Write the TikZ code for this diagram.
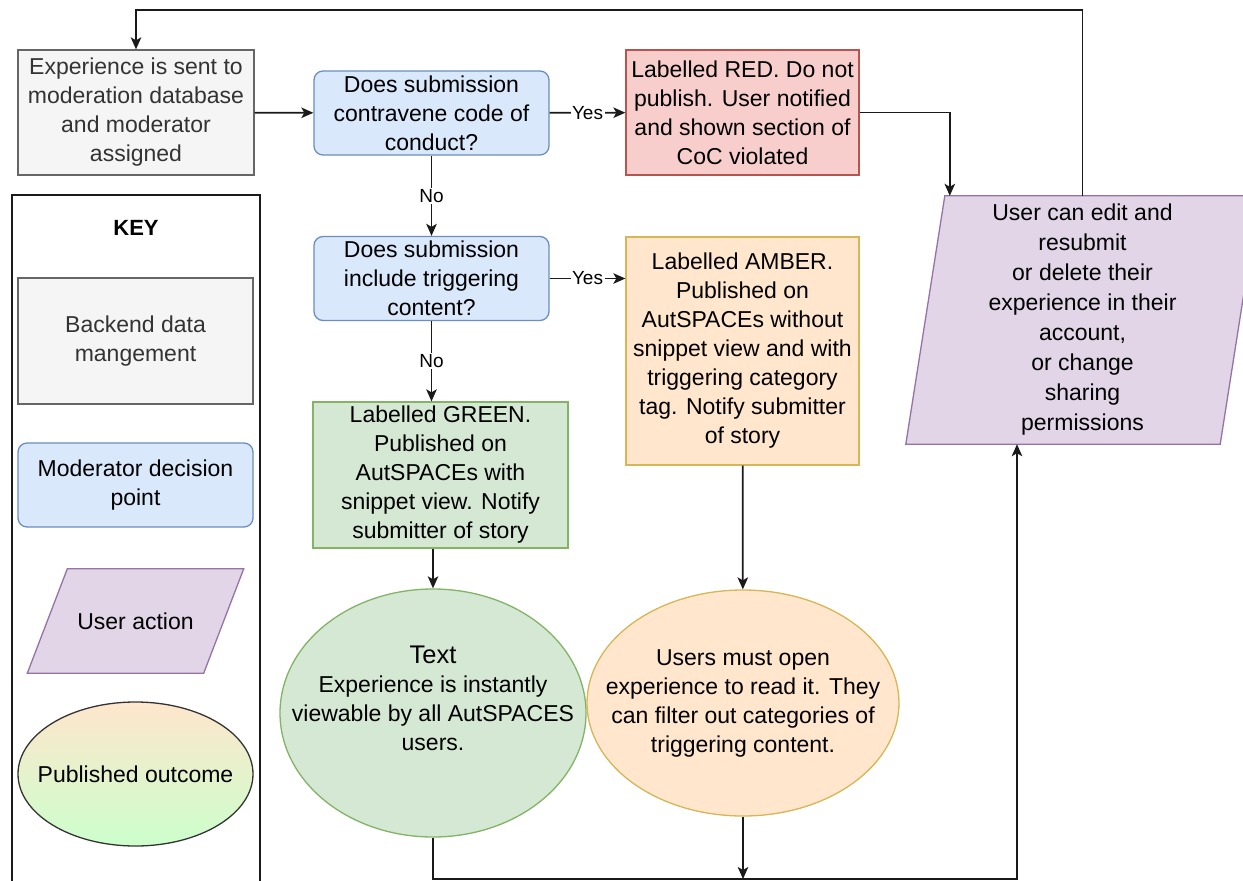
\documentclass[tikz,border=0pt]{standalone}
\usepackage{fontspec}
\setmainfont{Liberation Sans}
\usetikzlibrary{arrows.meta,shapes.geometric,backgrounds}

\definecolor{grayfill}{HTML}{F5F5F5}
\definecolor{graydraw}{HTML}{666666}
\definecolor{graytext}{HTML}{333333}
\definecolor{bluefill}{HTML}{DAE8FC}
\definecolor{bluedraw}{HTML}{6C8EBF}
\definecolor{redfill}{HTML}{F8CECC}
\definecolor{reddraw}{HTML}{B85450}
\definecolor{amberfill}{HTML}{FFE6CC}
\definecolor{amberdraw}{HTML}{D6B656}
\definecolor{greenfill}{HTML}{D5E8D4}
\definecolor{greendraw}{HTML}{82B366}
\definecolor{purplefill}{HTML}{E1D5E7}
\definecolor{purpledraw}{HTML}{9673A6}
\definecolor{mintfill}{HTML}{CCFFCC}
\definecolor{linecol}{HTML}{1A1A1A}

\tikzset{
  every node/.style={align=center, inner sep=0pt, font=\fontsize{23}{29}\selectfont},
  box/.style={draw, line width=1.3pt},
  backend/.style={box, rectangle, draw=graydraw, fill=grayfill, text=graytext,
    minimum width=236, minimum height=125},
  decide/.style={box, rectangle, rounded corners=9pt, draw=bluedraw, fill=bluefill,
    minimum width=235, minimum height=84},
  redbox/.style={box, rectangle, draw=reddraw, fill=redfill,
    minimum width=233, minimum height=125},
  amberbox/.style={box, rectangle, draw=amberdraw, fill=amberfill,
    minimum width=233, minimum height=228},
  greenbox/.style={box, rectangle, draw=greendraw, fill=greenfill,
    minimum width=255, minimum height=146},
  greenout/.style={box, ellipse, draw=greendraw, fill=greenfill,
    minimum width=306, minimum height=248},
  amberout/.style={box, ellipse, draw=amberdraw, fill=amberfill,
    minimum width=312, minimum height=226},
  keyout/.style={box, ellipse, draw=graytext, top color=amberfill, bottom color=mintfill,
    minimum width=235, minimum height=144},
  usertext/.style={rectangle},
  userpoly/.style={draw=purpledraw, fill=purplefill, line width=1.3pt},
  keyframe/.style={draw=linecol, line width=1.4pt, rectangle},
  flow/.style={draw=linecol, line width=1.8pt, -{Stealth[length=12pt,width=10.5pt,inset=3pt]}},
  lbl/.style={fill=white, inner sep=1.5pt, font=\fontsize{19}{22}\selectfont}
}

\begin{document}
\begin{tikzpicture}[x=1pt,y=-1pt]
  \useasboundingbox (0,0) rectangle (1243,881);

  % key
  \node[keyframe, minimum width=248, minimum height=730] (keybox) at (136,560) {};
  \node[font=\fontsize{22}{26}\bfseries] (keytitle) at (136,228) {KEY};
  \node[backend, minimum width=235, minimum height=126] (kback) at (135.5,341) {Backend data\\mangement};
  \node[decide] (kmod) at (135.5,485) {Moderator decision\\point};
  \node[usertext, minimum width=176, minimum height=104] (kuser) at (135.5,621) {User action};
  \node[keyout, label={center:Published outcome}] (kout) at (135.5,774) {};

  % flow chart
  \node[backend] (exp) at (136,112.5) {Experience is sent to\\moderation database\\and moderator\\assigned};
  \node[decide] (dec1) at (431.5,113) {Does submission\\contravene code of\\conduct?};
  \node[redbox] (red) at (742.5,112.5) {Labelled RED. Do not\\publish. User notified\\and shown section of\\CoC violated};
  \node[decide] (dec2) at (431.5,278.5) {Does submission\\include triggering\\content?};
  \node[amberbox] (amber) at (742.5,351) {Labelled AMBER.\\Published on\\AutSPACEs without\\snippet view and with\\triggering category\\tag. Notify submitter\\of story};
  \node[greenbox] (green) at (440.5,475) {Labelled GREEN.\\Published on\\AutSPACEs with\\snippet view. Notify\\submitter of story};
  \node[greenout, label={[yshift=15pt]center:{{\fontsize{25.5}{29}\selectfont Text}\\Experience is instantly\\viewable by all AutSPACES\\users.}}] (gtext) at (433,713) {};
  \node[amberout, label={center:{Users must open\\experience to read it. They\\can filter out categories of\\triggering content.}}] (atext) at (743,703) {};
  \node[usertext, minimum width=314, minimum height=248, font=\fontsize{23}{30}\selectfont] (user) at (1082.5,320) {User can edit and\\resubmit\\or delete their\\experience in their\\account,\\or change\\sharing\\permissions};

  \begin{scope}[on background layer]
    \draw[userpoly] ([xshift=-19.5pt]user.south west) -- ([xshift=19.5pt]user.north west)
      -- ([xshift=19.5pt]user.north east) -- ([xshift=-19.5pt]user.south east) -- cycle;
    \draw[userpoly] ([xshift=-20pt]kuser.south west) -- ([xshift=20pt]kuser.north west)
      -- ([xshift=20pt]kuser.north east) -- ([xshift=-20pt]kuser.south east) -- cycle;
  \end{scope}

  \coordinate (topline) at (0,10);
  \coordinate (botline) at (0,879);
  \coordinate (uin)  at ([xshift=24.5pt]user.north west);
  \coordinate (ubot) at ([xshift=-65.5pt]user.south);

  \draw[flow] (exp) -- (dec1);
  \draw[flow] (dec1) -- node[lbl] {Yes} (red);
  \draw[flow] (dec1) -- node[lbl] {No} (dec2);
  \draw[flow] (dec2.east) -- node[lbl] {Yes} (dec2.east -| amber.west);
  \draw[flow] (dec2.south) -- node[lbl] {No} (dec2.south |- green.north);
  \draw[flow] (green.south -| gtext.north) -- (gtext.north);
  \draw[flow] (amber) -- (atext);
  \draw[flow] (red.east) -| (uin);
  \draw[flow] (user.north) |- (exp.north |- topline) -- (exp.north);
  \draw[flow] (gtext.south) |- (ubot |- botline) -- (ubot);
  \draw[flow] (atext.south) -- (atext.south |- botline);
\end{tikzpicture}
\end{document}
